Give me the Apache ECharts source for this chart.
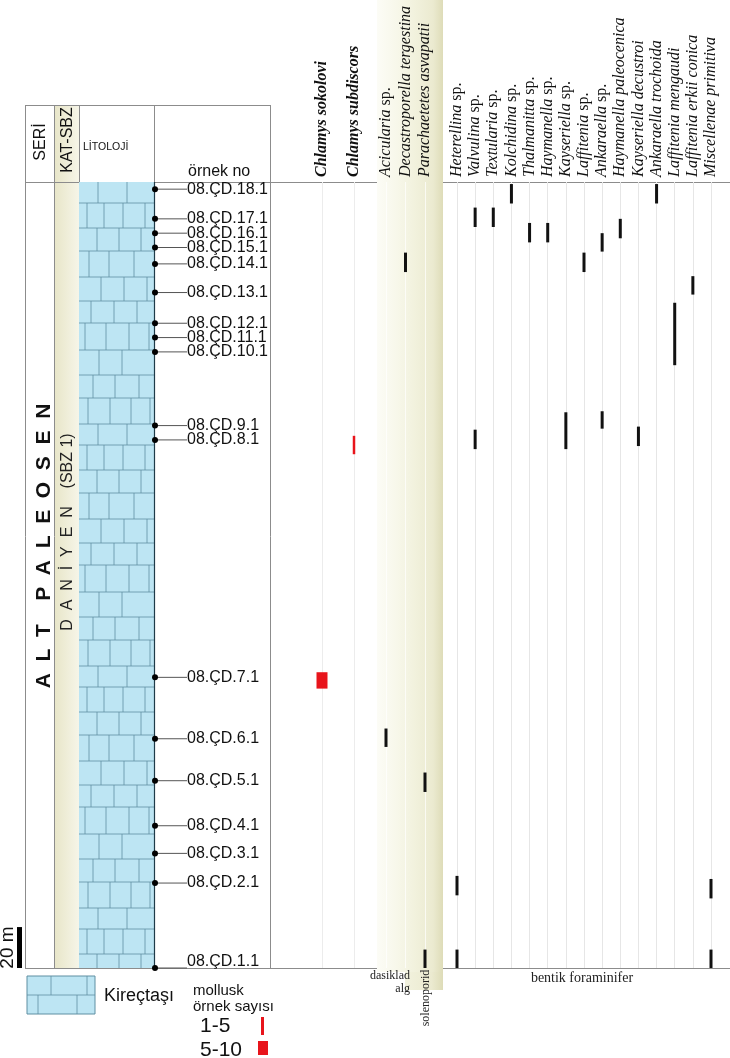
<!DOCTYPE html>
<html><head><meta charset="utf-8">
<script src="https://cdn.jsdelivr.net/npm/echarts@6/dist/echarts.min.js"></script>
<style>html,body{margin:0;padding:0;background:#fff}#c{width:730px;height:1058px}</style>
</head><body><div id="c"></div>
<script>
// ---------------- DATA (heights in metres above section base) ----------------
const SAMPLES = ['08.ÇD.1.1','08.ÇD.2.1','08.ÇD.3.1','08.ÇD.4.1','08.ÇD.5.1','08.ÇD.6.1','08.ÇD.7.1','08.ÇD.8.1','08.ÇD.9.1',
  '08.ÇD.10.1','08.ÇD.11.1','08.ÇD.12.1','08.ÇD.13.1','08.ÇD.14.1','08.ÇD.15.1','08.ÇD.16.1','08.ÇD.17.1','08.ÇD.18.1'];
const SAMPLE_HEIGHTS = [0, 41.5, 56, 69.5, 91.5, 112, 142, 258, 265, 301, 308, 315, 330, 344, 352, 359, 366, 380.5];
const SECTION_TOP = 384;              // top of measured limestone section (m)
const LITHOLOGY = [[0, 384, 'Kireçtaşı']];
const SCALE_BAR = [0, 20];             // 20 m scale bar

const MOLLUSK_SPECIES = ['Chlamys sokolovi', 'Chlamys subdiscors'];
// [species index, base (m), top (m), specimen-count class]
const MOLLUSK_RANGES = [[0, 136.5, 144.5, '5-10'], [1, 251, 260, '1-5']];

const ALGAE_SPECIES = ['Acicularia sp.', 'Decastroporella tergestina', 'Parachaetetes asvapatii'];
const ALGAE_RANGES = [[0, 108, 117], [1, 340, 349.5], [2, 86, 95.5], [2, 0, 9]];

const FORAM_SPECIES = ['Heterellina sp.', 'Valvulina sp.', 'Textularia sp.', 'Kolchidina sp.', 'Thalmanitta sp.',
  'Haymanella sp.', 'Kayseriella sp.', 'Laffitenia sp.', 'Ankaraella sp.', 'Haymanella paleocenica',
  'Kayseriella decustroi', 'Ankaraella trochoida', 'Laffitenia mengaudi', 'Laffitenia erkii conica', 'Miscellenae primitiva'];
const FORAM_RANGES = [
  [0, 35.5, 45], [0, 0, 9],
  [1, 362, 371.5], [1, 253.5, 263],
  [2, 362, 371.5],
  [3, 373.5, 383],
  [4, 354.5, 364],
  [5, 354.5, 364],
  [6, 253.5, 271.5],
  [7, 340, 349.5],
  [8, 350, 359], [8, 263.5, 272],
  [9, 356.5, 366],
  [10, 255, 264.5],
  [11, 373.5, 383],
  [12, 294.5, 325],
  [13, 329, 338],
  [14, 34, 43.5], [14, 0, 9]
];

// ---------------- LAYOUT / STYLE ----------------
const SANS = '"Liberation Sans", Arial, sans-serif';
const SERIF = '"Liberation Serif", "Times New Roman", serif';
const G_TOP = 182, G_BOTTOM = 90;
const LINE = '#8c8c8c';
const BLUE = '#bde5f3', BRICK = '#5f8fa2';

const chart = echarts.init(document.getElementById('c'));

function labelFmt(kind) {
  return function (name) {
    const m = name.match(/^(.*) (sp\.)$/);
    if (m) return '{' + kind + '|' + m[1] + '} {r|sp.}';
    return '{' + kind + '|' + name + '}';
  };
}
const RICH = {
  i: { fontFamily: SERIF, fontStyle: 'italic', fontSize: 16, color: '#111' },
  b: { fontFamily: SERIF, fontStyle: 'italic', fontWeight: 'bold', fontSize: 16, color: '#111' },
  r: { fontFamily: SERIF, fontStyle: 'normal', fontSize: 16, color: '#111' }
};
function catAxis(grid, cats, kind, splitColor, z) {
  return {
    gridIndex: grid, type: 'category', data: cats, position: 'top', boundaryGap: false,
    axisLine: { show: false }, axisTick: { show: false }, z: z || 0,
    splitLine: { show: true, interval: 0, lineStyle: { color: splitColor, width: 1 } },
    axisLabel: { interval: 0, rotate: 90, margin: 5, fontFamily: SERIF, fontSize: 16, color: '#111',
      formatter: labelFmt(kind), rich: RICH }
  };
}
function yAxis(grid) { return { gridIndex: grid, type: 'value', min: 0, max: SECTION_TOP, show: false }; }

function rangeRenderer(getWidth, getColor) {
  return function (params, api) {
    const c = api.value(0), lo = api.value(1), hi = api.value(2);
    const a = api.coord([c, lo]), b = api.coord([c, hi]);
    const w = getWidth(params.dataIndex);
    return { type: 'rect', shape: { x: a[0] - w / 2, y: b[1], width: w, height: a[1] - b[1] },
      style: { fill: getColor(params.dataIndex) } };
  };
}

// brick decoration
const ROW_H = [21, 25, 23, 26, 24, 22, 27, 25, 23, 26];
const ROW_OFF = [[19, 48], [8, 25, 44, 66], [18, 40, 62], [10, 30, 55], [22, 45, 68], [12, 35, 58], [6, 27, 50, 70], [20, 43], [14, 36, 60], [9, 31, 52, 71]];
function bricks(x0, x1, yt, yb) {
  const ch = [];
  let y = yt, r = 0;
  while (y < yb) {
    const h = ROW_H[r % ROW_H.length];
    const y2 = Math.min(yb, y + h);
    if (y > yt) ch.push({ type: 'line', shape: { x1: x0, y1: y, x2: x1, y2: y }, style: { stroke: BRICK, lineWidth: 0.8 } });
    ROW_OFF[r % ROW_OFF.length].forEach(function (o) {
      ch.push({ type: 'line', shape: { x1: x0 + o, y1: y, x2: x0 + o, y2: y2 }, style: { stroke: BRICK, lineWidth: 0.8 } });
    });
    y = y2; r++;
  }
  return ch;
}

const option = {
  animation: false,
  backgroundColor: '#fff',
  grid: [
    { left: 79, width: 76, top: G_TOP, bottom: G_BOTTOM },
    { left: 322, width: 32, top: G_TOP, bottom: G_BOTTOM },
    { left: 386, width: 39, top: G_TOP, bottom: G_BOTTOM },
    { left: 457, width: 254, top: G_TOP, bottom: G_BOTTOM }
  ],
  xAxis: [
    { gridIndex: 0, type: 'value', min: 0, max: 1, show: false },
    catAxis(1, MOLLUSK_SPECIES, 'b', '#ececec'),
    catAxis(2, ALGAE_SPECIES, 'i', 'rgba(255,255,255,0.7)', 1.5),
    catAxis(3, FORAM_SPECIES, 'i', '#e6e6e6')
  ],
  yAxis: [yAxis(0), yAxis(1), yAxis(2), yAxis(3)],
  series: [
    { // lithology column
      type: 'custom', xAxisIndex: 0, yAxisIndex: 0, z: 2,
      data: LITHOLOGY.map(function (d) { return [d[0], d[1]]; }),
      renderItem: function (params, api) {
        const a = api.coord([0, api.value(0)]), b = api.coord([1, api.value(1)]);
        const x0 = a[0], x1 = b[0], yb = a[1], yt = b[1];
        const ch = [{ type: 'rect', shape: { x: x0, y: yt, width: x1 - x0, height: yb - yt }, style: { fill: BLUE } }]
          .concat(bricks(x0, x1, yt, yb));
        ch.push({ type: 'line', shape: { x1: x1 - 0.5, y1: yt, x2: x1 - 0.5, y2: yb }, style: { stroke: '#1f3b48', lineWidth: 1.2 } });
        return { type: 'group', children: ch };
      }
    },
    { // samples
      type: 'custom', xAxisIndex: 0, yAxisIndex: 0, z: 3,
      data: SAMPLE_HEIGHTS.map(function (h, i) { return [1, h]; }),
      renderItem: function (params, api) {
        const p = api.coord([1, api.value(1)]);
        const up = params.dataIndex === 0 ? -6 : 0;
        return { type: 'group', children: [
          { type: 'line', shape: { x1: p[0], y1: p[1], x2: p[0] + 32, y2: p[1] }, style: { stroke: '#555', lineWidth: 1 } },
          { type: 'circle', shape: { cx: p[0], cy: p[1], r: 3 }, style: { fill: '#000' } },
          { type: 'text', x: p[0] + 32, y: p[1] + up, style: { text: SAMPLES[params.dataIndex], font: '16px ' + SANS, fill: '#111', verticalAlign: 'middle', align: 'left' } }
        ] };
      }
    },
    { // scale bar
      type: 'custom', xAxisIndex: 0, yAxisIndex: 0, z: 3,
      data: [SCALE_BAR],
      renderItem: function (params, api) {
        const a = api.coord([0, api.value(0)]), b = api.coord([0, api.value(1)]);
        return { type: 'group', children: [
          { type: 'rect', shape: { x: 17, y: b[1], width: 5, height: a[1] - b[1] }, style: { fill: '#000' } },
          { type: 'text', x: 8, y: (a[1] + b[1]) / 2, rotation: Math.PI / 2,
            style: { text: api.value(1) + ' m', font: '19px ' + SANS, fill: '#111', align: 'center', verticalAlign: 'middle' } }
        ] };
      }
    },
    { // molluscs
      type: 'custom', xAxisIndex: 1, yAxisIndex: 1, z: 3,
      data: MOLLUSK_RANGES.map(function (d) { return [d[0], d[1], d[2]]; }),
      renderItem: rangeRenderer(function (i) { return MOLLUSK_RANGES[i][3] === '5-10' ? 11 : 2.5; },
        function () { return '#e8141b'; })
    },
    { // algae
      type: 'custom', xAxisIndex: 2, yAxisIndex: 2, z: 3,
      data: ALGAE_RANGES,
      renderItem: rangeRenderer(function () { return 3; }, function () { return '#111'; })
    },
    { // benthic foraminifera
      type: 'custom', xAxisIndex: 3, yAxisIndex: 3, z: 3,
      data: FORAM_RANGES,
      renderItem: rangeRenderer(function () { return 3; }, function () { return '#111'; })
    }
  ],
  graphic: { elements: [
    // KAT-SBZ cream column
    { type: 'rect', z: -1, shape: { x: 55, y: 105, width: 24, height: 863 },
      style: { fill: new echarts.graphic.LinearGradient(0, 0, 1, 0, [{ offset: 0, color: '#e8e6c9' }, { offset: 1, color: '#f6f5e8' }]) } },
    // frame lines
    { type: 'line', z: 0, shape: { x1: 25.5, y1: 105, x2: 25.5, y2: 968 }, style: { stroke: LINE, lineWidth: 1 } },
    { type: 'line', z: 0, shape: { x1: 54.5, y1: 105, x2: 54.5, y2: 968 }, style: { stroke: LINE, lineWidth: 1 } },
    { type: 'line', z: 0, shape: { x1: 79.5, y1: 105, x2: 79.5, y2: 968 }, style: { stroke: LINE, lineWidth: 1 } },
    { type: 'line', z: 0, shape: { x1: 154.5, y1: 105, x2: 154.5, y2: 182 }, style: { stroke: LINE, lineWidth: 1 } },
    { type: 'line', z: 0, shape: { x1: 270.5, y1: 105, x2: 270.5, y2: 968 }, style: { stroke: LINE, lineWidth: 1 } },
    { type: 'line', z: 0, shape: { x1: 25, y1: 105.5, x2: 271, y2: 105.5 }, style: { stroke: LINE, lineWidth: 1 } },
    { type: 'line', z: 0, shape: { x1: 25, y1: 182.5, x2: 730, y2: 182.5 }, style: { stroke: LINE, lineWidth: 1.2 } },
    { type: 'line', z: 0, shape: { x1: 25, y1: 968.5, x2: 730, y2: 968.5 }, style: { stroke: LINE, lineWidth: 1.2 } },
    // algae band
    { type: 'rect', z: 1, shape: { x: 377, y: 0, width: 66, height: 972 },
      style: { fill: new echarts.graphic.LinearGradient(0, 0, 1, 0, [
        { offset: 0, color: '#fcfcf6' }, { offset: 0.3, color: '#f7f7ea' }, { offset: 0.55, color: '#f2f2de' },
        { offset: 0.85, color: '#ebead0' }, { offset: 1, color: '#dedcb8' }]) } },
    { type: 'rect', z: 1, shape: { x: 405, y: 972, width: 38, height: 18 },
      style: { fill: new echarts.graphic.LinearGradient(0, 0, 1, 0, [
        { offset: 0, color: '#f2f2de' }, { offset: 0.7, color: '#ebead0' }, { offset: 1, color: '#dedcb8' }]) } },
    // header texts
    { type: 'text', z: 5, x: 41, y: 142, rotation: Math.PI / 2, style: { text: 'SERİ', font: '16px ' + SANS, fill: '#111', align: 'center', verticalAlign: 'middle' } },
    { type: 'text', z: 5, x: 68, y: 140, rotation: Math.PI / 2, style: { text: 'KAT-SBZ', font: '16px ' + SANS, fill: '#111', align: 'center', verticalAlign: 'middle' } },
    { type: 'text', z: 5, x: 83, y: 147, style: { text: 'LİTOLOJİ', font: '10.5px ' + SANS, fill: '#111', align: 'left', verticalAlign: 'middle' } },
    { type: 'text', z: 5, x: 188, y: 172, style: { text: 'örnek no', font: '16px ' + SANS, fill: '#111', align: 'left', verticalAlign: 'middle' } },
    // stratigraphic texts
    { type: 'text', z: 5, x: 44, y: 546, rotation: Math.PI / 2, style: { text: 'A  L  T    P  A  L  E  O  S  E  N', font: 'bold 21px ' + SANS, fill: '#111', align: 'center', verticalAlign: 'middle' } },
    { type: 'text', z: 5, x: 68, y: 532, rotation: Math.PI / 2, style: { text: 'D  A  N  İ  Y  E  N    (SBZ 1)', font: '16px ' + SANS, fill: '#222', align: 'center', verticalAlign: 'middle' } },
    // group labels
    { type: 'text', z: 5, x: 410, y: 976, style: { text: 'dasiklad', font: '12px ' + SERIF, fill: '#222', align: 'right', verticalAlign: 'middle' } },
    { type: 'text', z: 5, x: 410, y: 989, style: { text: 'alg', font: '12px ' + SERIF, fill: '#222', align: 'right', verticalAlign: 'middle' } },
    { type: 'text', z: 5, x: 426, y: 998, rotation: Math.PI / 2, style: { text: 'solenoporid', font: '12px ' + SERIF, fill: '#222', align: 'center', verticalAlign: 'middle' } },
    { type: 'text', z: 5, x: 582, y: 978, style: { text: 'bentik foraminifer', font: '14px ' + SERIF, fill: '#222', align: 'center', verticalAlign: 'middle' } },
    // legend
    { type: 'group', z: 5, children: [
      { type: 'rect', shape: { x: 27, y: 976, width: 68, height: 38 }, style: { fill: BLUE, stroke: BRICK, lineWidth: 1 } },
      { type: 'line', shape: { x1: 27, y1: 995, x2: 95, y2: 995 }, style: { stroke: BRICK, lineWidth: 0.8 } },
      { type: 'line', shape: { x1: 51, y1: 976, x2: 51, y2: 995 }, style: { stroke: BRICK, lineWidth: 0.8 } },
      { type: 'line', shape: { x1: 87, y1: 976, x2: 87, y2: 995 }, style: { stroke: BRICK, lineWidth: 0.8 } },
      { type: 'line', shape: { x1: 38, y1: 995, x2: 38, y2: 1014 }, style: { stroke: BRICK, lineWidth: 0.8 } },
      { type: 'line', shape: { x1: 77, y1: 995, x2: 77, y2: 1014 }, style: { stroke: BRICK, lineWidth: 0.8 } }
    ] },
    { type: 'text', z: 5, x: 104, y: 996, style: { text: 'Kireçtaşı', font: '18px ' + SANS, fill: '#111', align: 'left', verticalAlign: 'middle' } },
    { type: 'text', z: 5, x: 193, y: 991, style: { text: 'mollusk', font: '15px ' + SANS, fill: '#111', align: 'left', verticalAlign: 'middle' } },
    { type: 'text', z: 5, x: 193, y: 1007, style: { text: 'örnek sayısı', font: '15px ' + SANS, fill: '#111', align: 'left', verticalAlign: 'middle' } },
    { type: 'text', z: 5, x: 200, y: 1026, style: { text: '1-5', font: '21px ' + SANS, fill: '#111', align: 'left', verticalAlign: 'middle' } },
    { type: 'text', z: 5, x: 200, y: 1050, style: { text: '5-10', font: '21px ' + SANS, fill: '#111', align: 'left', verticalAlign: 'middle' } },
    { type: 'rect', z: 5, shape: { x: 261, y: 1017, width: 3, height: 18 }, style: { fill: '#e8141b' } },
    { type: 'rect', z: 5, shape: { x: 258, y: 1041, width: 10, height: 14 }, style: { fill: '#e8141b' } }
  ] }
};
chart.setOption(option);
</script>
</body></html>
